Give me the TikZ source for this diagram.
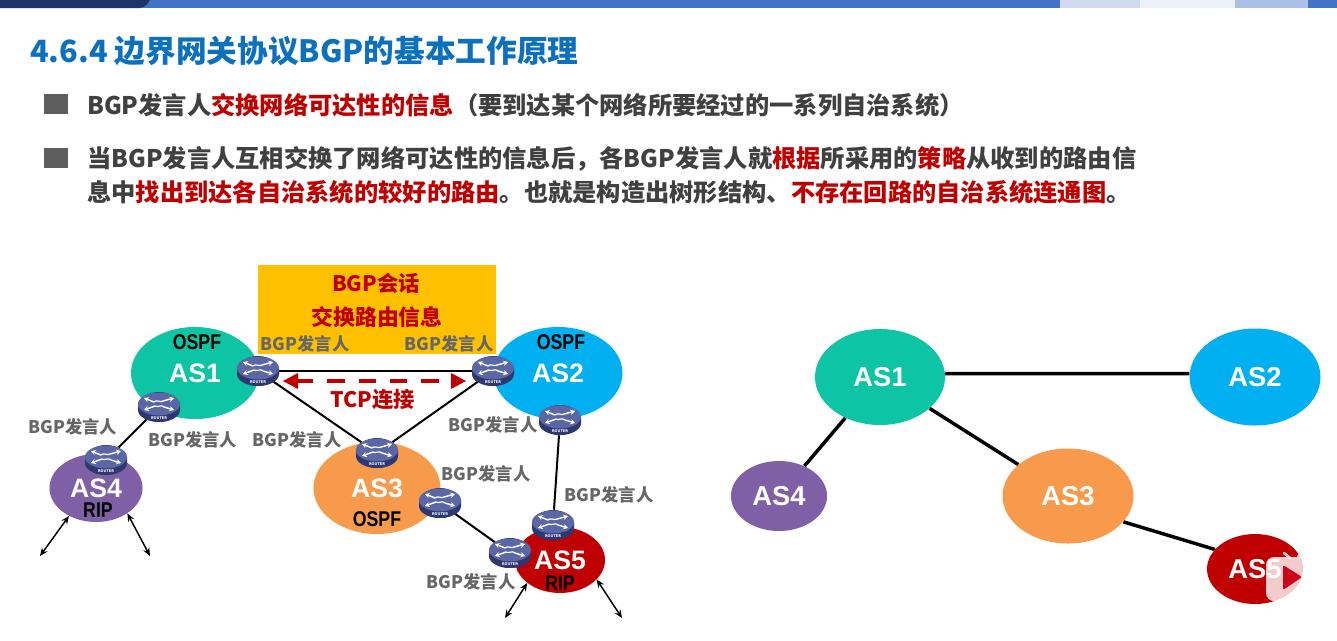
\documentclass[tikz,border=0pt]{standalone}
\usepackage{fontspec}
\setmainfont{Noto Sans CJK SC}
\newfontfamily\asfont{Liberation Sans}
\usetikzlibrary{shapes.geometric,arrows.meta}
\definecolor{asone}{HTML}{0DC4A4}
\definecolor{astwo}{HTML}{00B0F0}
\definecolor{asthree}{HTML}{F79A4C}
\definecolor{asfour}{HTML}{7F5FA5}
\definecolor{asfive}{HTML}{C00000}
\definecolor{titleblue}{HTML}{0B70BE}
\definecolor{bodygray}{HTML}{404040}
\definecolor{labelgray}{HTML}{666666}
\definecolor{hotred}{HTML}{C00000}
\definecolor{rtop}{HTML}{5A66A6}
\definecolor{rlow}{HTML}{2E3870}
\pgfdeclarelayer{blobs}
\pgfdeclarelayer{links}
\pgfsetlayers{blobs,links,main}
\newcommand{\hot}[1]{\textcolor{hotred}{#1}}
\tikzset{
  elps/.style n args={2}{ellipse,inner sep=0pt,draw=none,minimum width=#1*0.75pt,minimum height=#2*0.75pt},
  asmark/.style={text=white,font=\asfont\bfseries\fontsize{20}{22}\selectfont},
  aslarge/.style={text=white,font=\asfont\bfseries\fontsize{20.5}{23}\selectfont},
  protocol/.style={text=black,xscale=0.83,inner sep=0pt,font=\asfont\bfseries\fontsize{16}{18}\selectfont},
  speaker/.style={text=labelgray,inner sep=0pt,font=\bfseries\fontsize{13}{15}\selectfont},
  bodyline/.style={anchor=west,inner sep=0pt,text=bodygray,font=\bfseries\fontsize{18.2}{20}\selectfont},
  redcap/.style={text=hotred,inner sep=0pt,font=\bfseries\fontsize{16}{18}\selectfont},
  bullet/.style={fill=bodygray!85,draw=none,inner sep=0pt,minimum width=18pt,minimum height=15pt},
  link/.style={draw=black,line width=1.5pt},
  biglink/.style={draw=black,line width=2.6pt},
  freearrow/.style={draw=black,line width=1.1pt,{Stealth[length=6pt,width=5pt]}-{Stealth[length=6pt,width=5pt]}},
  tcparrow/.style={draw=hotred,line width=3.5pt,dash pattern=on 13pt off 10.5pt,-},
  routerbase/.style={elps={42}{30},fill=rlow},
  rarrow/.style={draw=white,line width=1.1pt,-{Stealth[length=3.5pt,width=4pt]}}
}
\newcommand{\router}[2]{%
  \node[routerbase] (#1) at (#2) {};
  \begin{scope}[shift={(#2)}]
    \fill[rlow] (-21,-3) -- (-21,3) arc[start angle=180,end angle=360,x radius=21,y radius=-12] -- (21,-3) -- cycle;
    \fill[rtop] (0,-3) ellipse[x radius=21,y radius=11.5];
    \draw[rarrow] (-5,-5) -- (-15,-9);
    \draw[rarrow] (4,-6) -- (15,-9);
    \draw[rarrow] (5,0) -- (15,3);
    \draw[rarrow] (-4,-1) -- (-15,3);
    \draw[white,line width=0.9pt] (-5,-5) .. controls (-2,-8) and (1,-4) .. (4,-6);
    \draw[white,line width=0.9pt] (-4,-1) .. controls (-1,1) and (2,-3) .. (5,0);
    \node[inner sep=0pt,text=white,font=\bfseries\fontsize{2.8}{3}\selectfont] (#1cap) at (0,11) {ROUTER};
  \end{scope}
}
\begin{document}
\begin{tikzpicture}[x=0.75pt,y=-0.75pt]
\useasboundingbox (0,0) rectangle (1337,640);
% top band
\begin{pgfonlayer}{blobs}
\fill[fill=white] (0,0) rectangle (1337,640);
\fill[fill={rgb,255:red,68;green,114;blue,196}] (0,0) rectangle (1337,8);
\fill[fill={rgb,255:red,28;green,52;blue,104}] (0,0) -- (150,0) .. controls (148,4) and (145,7) .. (140,8) -- (0,8) -- cycle;
\fill[white,opacity=0.75] (1060,0) rectangle (1140,8);
\fill[white,opacity=0.9] (1140,0) rectangle (1235,8);
\fill[white,opacity=0.55] (1235,0) rectangle (1308,8);
\end{pgfonlayer}
% header texts
\node[anchor=west,inner sep=0pt,text=titleblue,font=\bfseries\fontsize{23}{25}\selectfont] (title) at (30,51) {4.6.4 边界网关协议BGP的基本工作原理};
\node[bullet] (b1) at (56,104) {};
\node[bullet] (b2) at (56,158) {};
\node[bodyline] (l1) at (87,105) {BGP发言人\hot{交换网络可达性的信息}（要到达某个网络所要经过的一系列自治系统）};
\node[bodyline] (l2) at (87,159) {当BGP发言人互相交换了网络可达性的信息后，各BGP发言人就\hot{根据}所采用的\hot{策略}从收到的路由信};
\node[bodyline] (l3) at (87,192) {息中\hot{找出到达各自治系统的较好的路由}。也就是构造出树形结构、\hot{不存在回路的自治系统连通图}。};
% left diagram : blobs
\begin{pgfonlayer}{blobs}
\node[rectangle,inner sep=0pt,fill={rgb,255:red,255;green,192;blue,0},minimum width=178.5pt,minimum height=66.75pt] (banner) at (377,309.5) {};
\node[elps={128}{92},fill=asone,asmark] (as1) at (195,373) {AS1};
\node[elps={129}{92},fill=astwo,asmark] (as2) at (558,373) {AS2};
\node[elps={127}{92},fill=asthree,asmark,text depth=-3pt] (as3) at (377,488) {AS3};
\node[elps={93}{68},fill=asfour,asmark,text depth=-3pt] (as4) at (96,488) {AS4};
\node[elps={90}{66},fill=asfive,asmark] (as5) at (560,560) {AS5};
\end{pgfonlayer}
% routers
\router{r1a}{258,371}
\router{r1b}{159,407}
\router{r2a}{493,371}
\router{r2b}{560,420}
\router{r3a}{377,453}
\router{r3b}{440,503}
\router{r4a}{106,460}
\router{r5a}{553,525}
\router{r5b}{510,553}
% left links
\begin{pgfonlayer}{links}
\draw[link] (r1a) -- (r2a);
\draw[link] (r1a) -- (r3a);
\draw[link] (r2a) -- (r3a);
\draw[link] (r1b) -- (r4a);
\draw[link] (r2b) -- (r5a);
\draw[link] (r3b) -- (r5b);
\end{pgfonlayer}
% TCP arrow
\coordinate (tcpl) at (296,381);
\coordinate (tcpr) at (453,381);
\coordinate (tipl) at (283,381);
\coordinate (tipr) at (466,381);
\draw[tcparrow] (tcpl) -- (tcpr);
\fill[hotred] (tipl) -- ++(15,-8) -- ++(0,16) -- cycle;
\fill[hotred] (tipr) -- ++(-15,-8) -- ++(0,16) -- cycle;
% free arrows
\coordinate (f4l) at (40,556);
\coordinate (f4r) at (150,556);
\coordinate (f5l) at (505,618);
\coordinate (f5r) at (622,618);
\draw[freearrow] (as4.226) -- (f4l);
\draw[freearrow] (as4.321) -- (f4r);
\draw[freearrow] (as5.215) -- (f5l);
\draw[freearrow] (as5.332) -- (f5r);
% protocol labels
\node[protocol] (p1) at (197,342) {OSPF};
\node[protocol] (p2) at (561,342) {OSPF};
\node[protocol] (p3) at (377,519) {OSPF};
\node[protocol] (p4) at (98,510) {RIP};
\node[protocol] (p5) at (560,583) {RIP};
% banner text
\node[redcap] (bt1) at (376,283) {BGP会话};
\node[redcap,font=\bfseries\fontsize{16.4}{18}\selectfont] (bt2) at (377,317) {交换路由信息};
\node[redcap] (tcp) at (373,399) {TCP连接};
% speakers
\node[speaker] (s1) at (305,344) {BGP发言人};
\node[speaker] (s2) at (449,344) {BGP发言人};
\node[speaker] (s3) at (73,427) {BGP发言人};
\node[speaker] (s4) at (193,440) {BGP发言人};
\node[speaker] (s5) at (297,440) {BGP发言人};
\node[speaker] (s6) at (493,425) {BGP发言人};
\node[speaker] (s7) at (486,474) {BGP发言人};
\node[speaker] (s8) at (609,495) {BGP发言人};
\node[speaker] (s9) at (471,582) {BGP发言人};
% right diagram
\node[elps={130}{96},fill=asone,aslarge] (t1) at (880,377) {AS1};
\node[elps={131}{97},fill=astwo,aslarge] (t2) at (1255,377) {AS2};
\node[elps={131}{95},fill=asthree,aslarge] (t3) at (1068,496) {AS3};
\node[elps={96}{70},fill=asfour,aslarge] (t4) at (779,496) {AS4};
\node[elps={96}{70},fill=asfive,aslarge] (t5) at (1255,569) {AS5};
\begin{pgfonlayer}{links}
\draw[biglink] (t1.3) -- (t2.177);
\draw[biglink] (t1) -- (t3);
\draw[biglink] (t1) -- (t4);
\draw[biglink] (t3.335) -- (t5.154);
\end{pgfonlayer}
% player badge
\fill[white,opacity=0.8,rounded corners=6pt] (1266,557) rectangle (1318,601);
\draw[white,opacity=0.8,line width=2pt,line cap=round] (1284,553) -- (1290,558);
\draw[white,opacity=0.8,line width=2pt,line cap=round] (1302,552) -- (1298,557);
\fill[fill={rgb,255:red,205;green,5;blue,25},rounded corners=1.5pt] (1283,565) -- (1302,577) -- (1283,590) -- cycle;
\end{tikzpicture}
\end{document}
